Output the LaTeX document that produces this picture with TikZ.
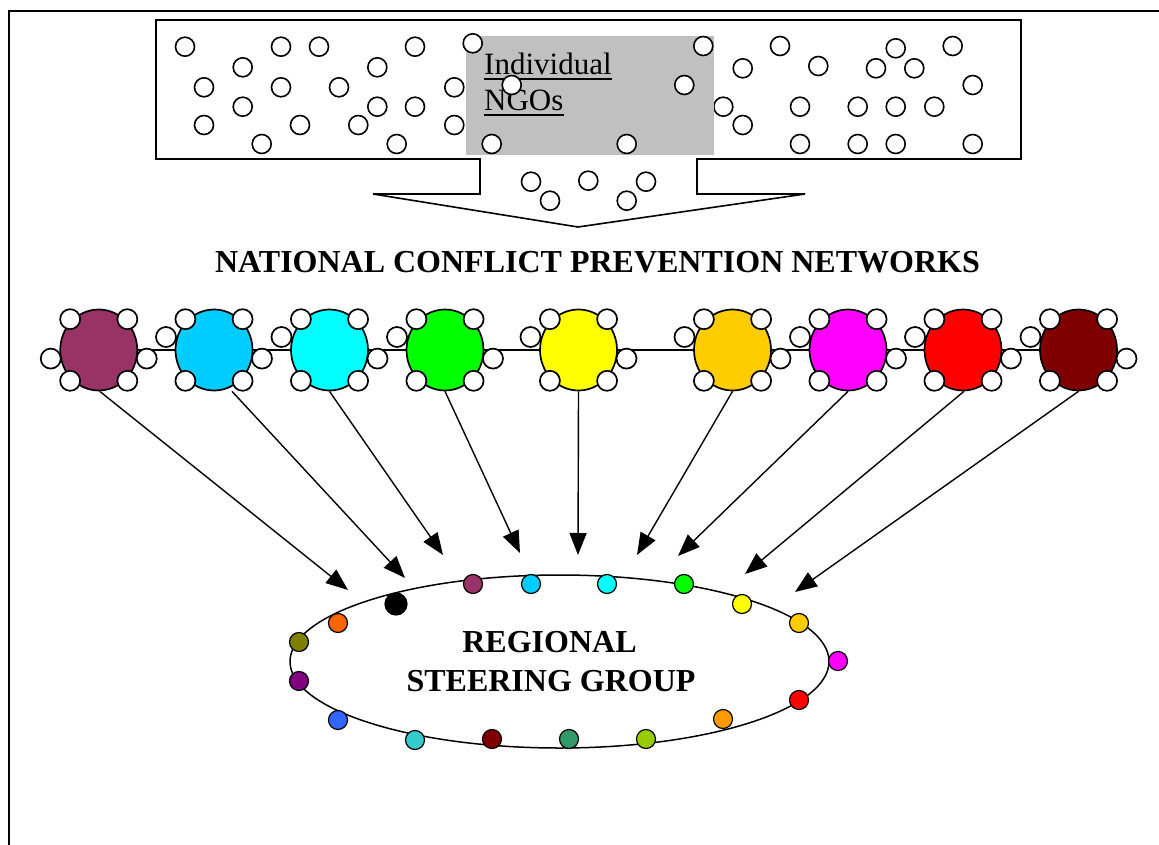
\documentclass[tikz,border=0pt]{standalone}
\usepackage{fontspec}
\setmainfont{Liberation Serif}
\usetikzlibrary{arrows.meta,shapes.geometric,calc,backgrounds}
\definecolor{grayA}{HTML}{C0C0C0}
\definecolor{cMaroon}{HTML}{993366}
\definecolor{cSky}{HTML}{00CCFF}
\definecolor{cCyan}{HTML}{00FFFF}
\definecolor{cGreen}{HTML}{00FF00}
\definecolor{cYellow}{HTML}{FFFF00}
\definecolor{cGold}{HTML}{FFCC00}
\definecolor{cMagenta}{HTML}{FF00FF}
\definecolor{cRed}{HTML}{FF0000}
\definecolor{cDarkRed}{HTML}{800000}
\definecolor{cOrange}{HTML}{FF9900}
\definecolor{cLime}{HTML}{99CC00}
\definecolor{cSea}{HTML}{339966}
\definecolor{cTeal}{HTML}{33CCCC}
\definecolor{cBlue}{HTML}{3366FF}
\definecolor{cPurple}{HTML}{800080}
\definecolor{cOlive}{HTML}{808000}
\definecolor{cOrRed}{HTML}{FF6600}
\begin{document}
\begin{tikzpicture}[x=1pt,y=-1pt,
  ngo/.style={circle,draw,fill=white,line width=1.6pt,minimum size=19pt,inner sep=0pt},
  netw/.style={ellipse,draw,line width=1.7pt,minimum width=77pt,minimum height=81pt,inner sep=0pt},
  mem/.style={circle,draw,fill=white,line width=1.7pt,minimum size=20pt,inner sep=0pt},
  rdot/.style={circle,draw,line width=1.2pt,minimum size=19pt,inner sep=0pt},
  link/.style={line width=1.4pt,-{Triangle[length=22pt,width=17pt]}},
  ttl/.style={font=\bfseries\fontsize{32}{38}\selectfont,inner sep=0pt,anchor=base},
  lbl/.style={font=\fontsize{31}{36}\selectfont,inner sep=0pt,anchor=base west},
  uline/.style={line width=1.8pt}
]
\useasboundingbox (0,0) rectangle (1159,845);
% frame
\draw[line width=2pt] (9,845) -- (9,11) -- (1159,11);
% box with arrow
\draw[line width=1.6pt,fill=white] (156,20) -- (1021,20) -- (1021,159) -- (697,159) -- (697,194)
  -- (805,194) -- (578,227) -- (373,194) -- (480,194) -- (480,159) -- (156,159) -- cycle;
\node[ngo] (g0) at (723.3,106.7) {};
\fill[grayA] (466,36) rectangle (714,155);
\node[lbl] (w1) at (484,75) {Individual};
\node[lbl] (w2) at (484,111) {NGOs};
\draw[uline] ([yshift=-4pt]w1.base west) -- ([yshift=-4pt]w1.base east);
\draw[uline] ([yshift=-4pt]w2.base west) -- ([yshift=-4pt]w2.base east);
\foreach \x/\y [count=\k] in {185/46.7, 281/46.7, 319/46.7, 415/46.7, 472.7/43.3, 242.7/67.3, 377.3/67.3,
  204/87.3, 281/87.3, 339/87.3, 454.3/87.3, 511.7/85, 242.7/106.7, 377.3/106.7, 415/106.7,
  204/125, 300/125, 358.3/125, 454.3/125, 261.7/144, 396.7/144, 491.7/144,
  703.3/46, 780/46, 895.7/48.3, 952.7/46, 742.7/68.3, 818.3/66, 876/68.3, 914.3/68.3,
  972.7/85, 684.3/85, 742.7/125, 800/106.7, 857.7/106.7, 895.7/106.7, 934.3/106.7,
  800/144, 857.7/144, 895.7/144, 972.7/144, 626.7/144,
  531/181.7, 588.3/180.7, 646/181.7, 550/200.7, 626.7/200.7}
  \node[ngo] (g\k) at (\x,\y) {};
% title
\node[ttl] (title) at (597.5,272) {NATIONAL CONFLICT PREVENTION NETWORKS};
% networks
\foreach \i/\x/\c in {1/98.75/cMaroon, 2/214/cSky, 3/329.5/cCyan, 4/445/cGreen, 5/578.5/cYellow,
  6/732.5/cGold, 7/848/cMagenta, 8/963/cRed, 9/1078.5/cDarkRed}
  \node[netw,fill=\c] (n\i) at (\x,350) {};
\begin{scope}[on background layer]
  \draw[line width=1.6pt] (n1.center) -- (n9.center);
\end{scope}
\foreach \i in {1,...,9}{
  \foreach \dx/\dy [count=\k] in {-28.6/-30.8, 28.6/-30.8, -28.6/30.8, 28.6/30.8, 48/8.6}
    \node[mem] (m\i-\k) at ($(n\i)+(\dx,\dy)$) {};
}
\node[mem] (m1-6) at ($(n1)+(-48,8.6)$) {};
\foreach \i in {2,...,9}
  \node[mem] (m\i-6) at ($(n\i)+(-48,-13)$) {};
% regional steering group
\node[ellipse,draw,line width=1.5pt,minimum width=539pt,minimum height=173pt,inner sep=0pt] (rsg) at (559.5,661.5) {};
\node[ttl] (r1) at (549.5,652) {REGIONAL};
\node[ttl] (r2) at (551,691) {STEERING GROUP};
\foreach \x/\y/\c/\s [count=\k] in {473/584/cMaroon/19, 531/584/cSky/19, 607/584/cCyan/19, 684/584/cGreen/19,
  742/604/cYellow/19, 799/623/cGold/19, 838/661/cMagenta/19, 799/700/cRed/19, 723/719/cOrange/19,
  646/739/cLime/19, 569/739/cSea/19, 492/739/cDarkRed/19, 415/740/cTeal/19, 338/720/cBlue/19,
  299/681/cPurple/19, 299/642/cOlive/19, 338/623/cOrRed/19, 396/604/black/22}
  \node[rdot,fill=\c,minimum size=\s pt] (d\k) at (\x,\y) {};
% arrows
\foreach \i/\tx/\ty/\sx in {1/348/590/1, 2/405/578/18, 3/443/555/0, 4/520/553/0, 5/578/555/0,
  6/637/555/0, 7/678/556/0, 8/745/574/1, 9/795/592/0}{
  \coordinate (t\i) at (\tx,\ty);
  \draw[link] ([xshift=\sx pt]n\i.south) -- (t\i);
}
\end{tikzpicture}
\end{document}
